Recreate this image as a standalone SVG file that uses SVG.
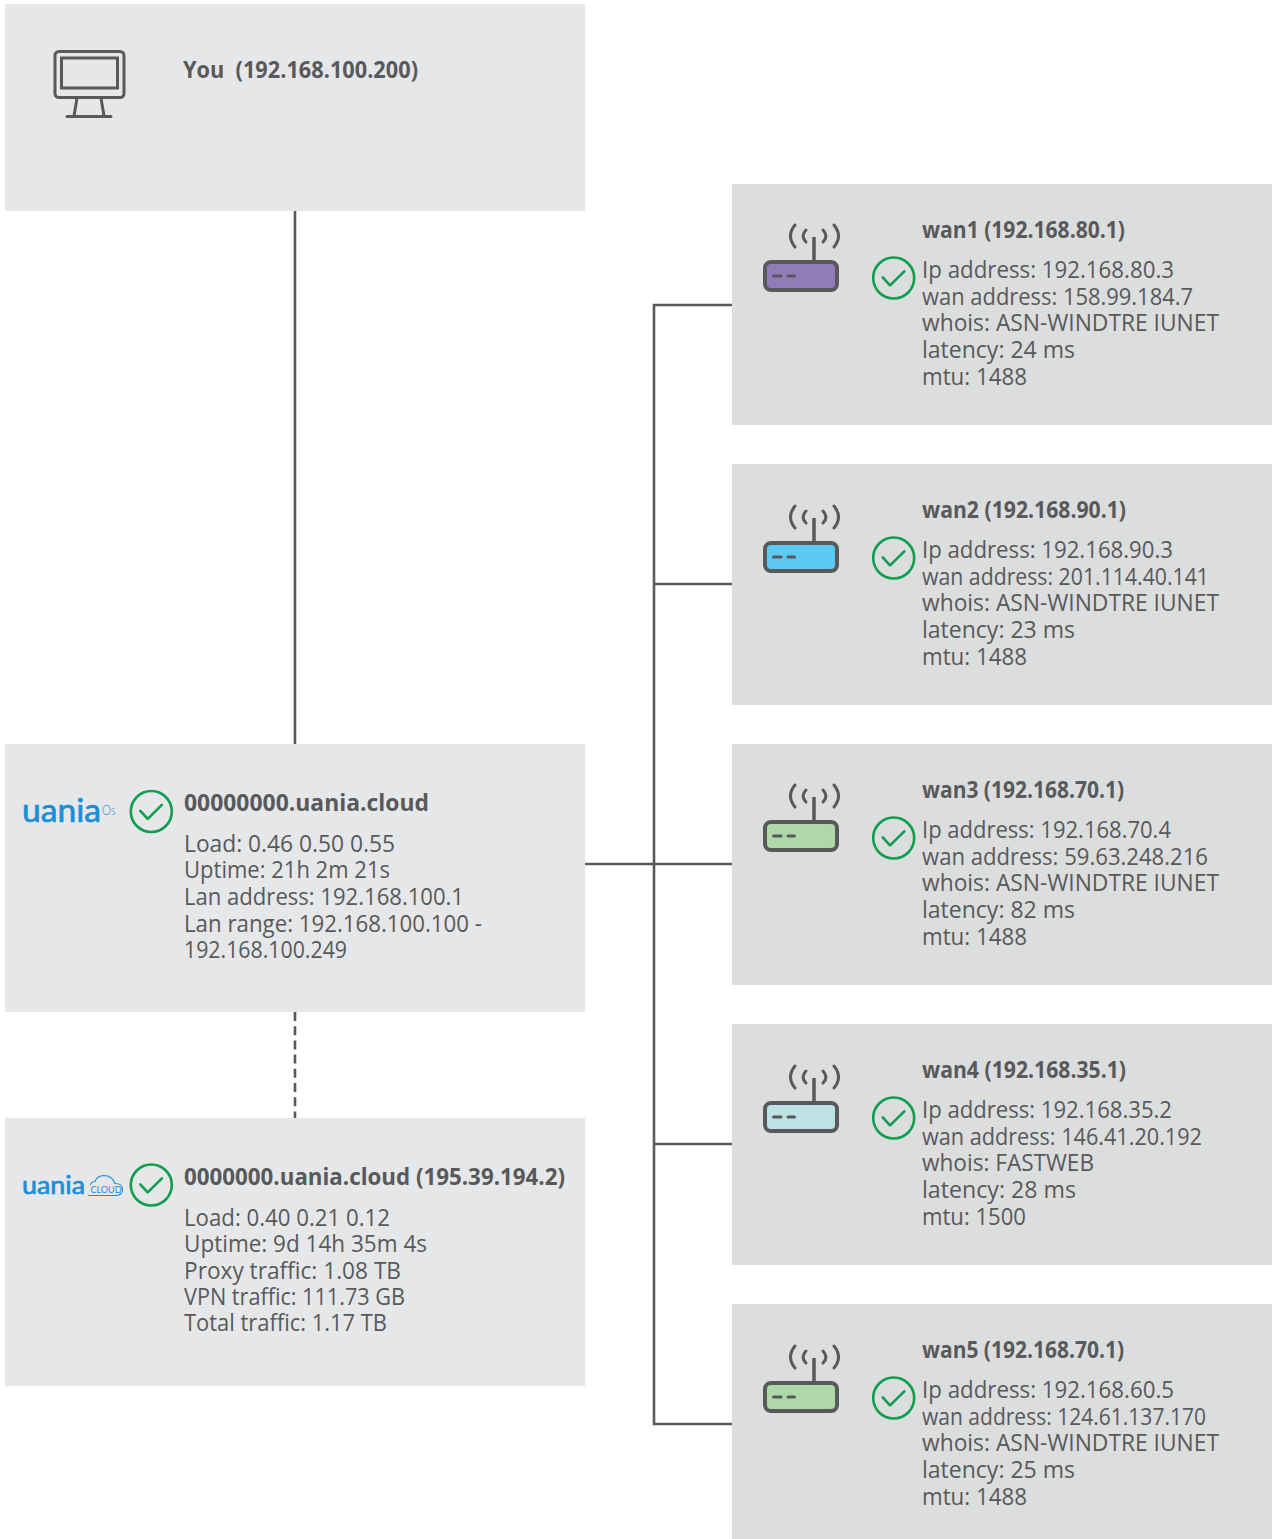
<svg xmlns="http://www.w3.org/2000/svg" width="1272" height="1539" viewBox="0 0 1272 1539">
<style>
text{font-family:"Open Sans","Noto Sans",sans-serif;fill:#58595b;white-space:pre}
.t{font-size:23px;font-weight:700}
.b{font-size:23px}
.lg{fill:#e6e7e8}
.dk{fill:#dcdddd}
.cn{fill:none;stroke:#58595b;stroke-width:2.6}
.ic{fill:none;stroke:#58595b;stroke-width:3;stroke-linecap:round;stroke-linejoin:round}
.ok{fill:none;stroke:#0f9d4f;stroke-width:2.6;stroke-linecap:round;stroke-linejoin:round}
.logo{font-family:"Lato",sans-serif;fill:#1a8fd8;stroke:#1a8fd8;stroke-width:.7}
.logo2{font-family:"Lato",sans-serif;fill:#1a8fd8}
.r1{fill:#917bb8}.r2{fill:#5cc9f5}.r3{fill:#aed8a9}.r4{fill:#bde2e6}
</style>
<defs>
<g id="ok"><circle class="ok" cx="0" cy="0" r="20.5"/><path class="ok" d="M-11-.6L-3.6 7.4L10.6-6.6"/></g>
<g id="wv"><path class="ic" d="M795 225Q786 236 795 247M806 230Q800 236 806 242M823 230Q829 236 823 242M834 225Q843 236 834 247"/><path class="ic" style="stroke-linecap:butt;stroke-width:3.5" d="M814 237V262"/></g>
<g id="rt"><path class="ic" style="stroke-width:3" d="M773.500 276H781M788 276H794.500"/></g>
</defs>
<g id="connectors">
<path class="cn" d="M295 211V744"/>
<path class="cn" stroke-dasharray="9 5.200" d="M295 1012V1118"/>
<path class="cn" d="M585 864H732M732 305H654V1424H732M654 584H732M654 1144H732"/>
</g>
<g id="you">
<rect class="lg" x="5" y="4" width="580" height="207"/>
<rect class="ic" x="55" y="51.500" width="69" height="46" rx="4"/>
<rect class="ic" style="stroke-linejoin:miter" x="61.500" y="58" width="56" height="30"/>
<path class="ic" d="M77 98L74 116M101 98L104 116M67 116.500H111"/>
<text class="t" x="183" y="78" textLength="235" lengthAdjust="spacingAndGlyphs">You  (192.168.100.200)</text>
</g>
<g id="node-os">
<rect class="lg" x="5" y="744" width="580" height="268"/>
<text class="logo" x="22" y="822" font-size="32" textLength="79" lengthAdjust="spacingAndGlyphs">uania</text>
<text class="logo2" style="font-weight:300" x="102" y="815" font-size="13" textLength="13.500" lengthAdjust="spacingAndGlyphs">Os</text>
<use href="#ok" x="151.300" y="811.500"/>
<text class="t" x="184" y="811" textLength="245" lengthAdjust="spacingAndGlyphs">00000000.uania.cloud</text>
<text class="b" x="184" y="852" textLength="211" lengthAdjust="spacingAndGlyphs">Load: 0.46 0.50 0.55</text>
<text class="b" x="184" y="878" textLength="206" lengthAdjust="spacingAndGlyphs">Uptime: 21h 2m 21s</text>
<text class="b" x="184" y="905" textLength="280" lengthAdjust="spacingAndGlyphs">Lan address: 192.168.100.1</text>
<text class="b" x="184" y="931.500" textLength="298" lengthAdjust="spacingAndGlyphs">Lan range: 192.168.100.100 -</text>
<text class="b" x="184" y="958" textLength="163" lengthAdjust="spacingAndGlyphs">192.168.100.249</text>
</g>
<g id="node-cloud">
<rect class="lg" x="5" y="1118" width="580" height="268"/>
<text class="logo" x="22" y="1194" font-size="25" textLength="63" lengthAdjust="spacingAndGlyphs">uania</text>
<path fill="none" stroke="#1a8fd8" stroke-width="1.100" d="M88 1195.500H116Q122.500 1195 122.500 1189.500Q122.500 1183.500 115 1183.500Q112 1175.500 104 1175.500Q97 1176 95 1181.500Q91 1181.500 90.500 1185"/>
<text class="logo2" x="90.500" y="1193" font-size="10" textLength="31" lengthAdjust="spacingAndGlyphs">CLOUD</text>
<use href="#ok" x="151.300" y="1185"/>
<text class="t" x="184" y="1185" textLength="381" lengthAdjust="spacingAndGlyphs">0000000.uania.cloud (195.39.194.2)</text>
<text class="b" x="184" y="1225.500" textLength="206" lengthAdjust="spacingAndGlyphs">Load: 0.40 0.21 0.12</text>
<text class="b" x="184" y="1251.500" textLength="243" lengthAdjust="spacingAndGlyphs">Uptime: 9d 14h 35m 4s</text>
<text class="b" x="184" y="1278.500" textLength="217" lengthAdjust="spacingAndGlyphs">Proxy traffic: 1.08 TB</text>
<text class="b" x="184" y="1305" textLength="221" lengthAdjust="spacingAndGlyphs">VPN traffic: 111.73 GB</text>
<text class="b" x="184" y="1331" textLength="203" lengthAdjust="spacingAndGlyphs">Total traffic: 1.17 TB</text>
</g>
<g id="wan1">
<rect class="dk" x="732" y="184" width="540" height="241"/>
<use href="#wv"/>
<rect class="ic r1" style="stroke-width:4" x="765" y="262" width="72" height="28" rx="6"/><use href="#rt"/>
<use href="#ok" x="893.700" y="278"/>
<text class="t" x="922" y="238" textLength="203" lengthAdjust="spacingAndGlyphs">wan1 (192.168.80.1)</text>
<text class="b" x="922" y="278.300" textLength="252" lengthAdjust="spacingAndGlyphs">Ip address: 192.168.80.3</text>
<text class="b" x="922" y="304.900" textLength="271" lengthAdjust="spacingAndGlyphs">wan address: 158.99.184.7</text>
<text class="b" x="922" y="331.200" textLength="297" lengthAdjust="spacingAndGlyphs">whois: ASN-WINDTRE IUNET</text>
<text class="b" x="922" y="358" textLength="153" lengthAdjust="spacingAndGlyphs">latency: 24 ms</text>
<text class="b" x="922" y="384.500" textLength="105" lengthAdjust="spacingAndGlyphs">mtu: 1488</text>
</g>
<g id="wan2">
<rect class="dk" x="732" y="464" width="540" height="241"/>
<use href="#wv" y="281"/>
<rect class="ic r2" style="stroke-width:4" x="765" y="543" width="72" height="28" rx="6"/><use href="#rt" y="281"/>
<use href="#ok" x="893.700" y="558"/>
<text class="t" x="922" y="518" textLength="204" lengthAdjust="spacingAndGlyphs">wan2 (192.168.90.1)</text>
<text class="b" x="922" y="558.300" textLength="251" lengthAdjust="spacingAndGlyphs">Ip address: 192.168.90.3</text>
<text class="b" x="922" y="584.900" textLength="287" lengthAdjust="spacingAndGlyphs">wan address: 201.114.40.141</text>
<text class="b" x="922" y="611.200" textLength="297" lengthAdjust="spacingAndGlyphs">whois: ASN-WINDTRE IUNET</text>
<text class="b" x="922" y="638" textLength="153" lengthAdjust="spacingAndGlyphs">latency: 23 ms</text>
<text class="b" x="922" y="664.700" textLength="105" lengthAdjust="spacingAndGlyphs">mtu: 1488</text>
</g>
<g id="wan3">
<rect class="dk" x="732" y="744" width="540" height="241"/>
<use href="#wv" y="560"/>
<rect class="ic r3" style="stroke-width:4" x="765" y="822" width="72" height="28" rx="6"/><use href="#rt" y="560"/>
<use href="#ok" x="893.700" y="838"/>
<text class="t" x="922" y="798" textLength="202" lengthAdjust="spacingAndGlyphs">wan3 (192.168.70.1)</text>
<text class="b" x="922" y="838.300" textLength="249" lengthAdjust="spacingAndGlyphs">Ip address: 192.168.70.4</text>
<text class="b" x="922" y="864.900" textLength="286" lengthAdjust="spacingAndGlyphs">wan address: 59.63.248.216</text>
<text class="b" x="922" y="891.200" textLength="297" lengthAdjust="spacingAndGlyphs">whois: ASN-WINDTRE IUNET</text>
<text class="b" x="922" y="918" textLength="153" lengthAdjust="spacingAndGlyphs">latency: 82 ms</text>
<text class="b" x="922" y="944.700" textLength="105" lengthAdjust="spacingAndGlyphs">mtu: 1488</text>
</g>
<g id="wan4">
<rect class="dk" x="732" y="1024" width="540" height="241"/>
<use href="#wv" y="841"/>
<rect class="ic r4" style="stroke-width:4" x="765" y="1103" width="72" height="28" rx="6"/><use href="#rt" y="841"/>
<use href="#ok" x="893.700" y="1118"/>
<text class="t" x="922" y="1078" textLength="204" lengthAdjust="spacingAndGlyphs">wan4 (192.168.35.1)</text>
<text class="b" x="922" y="1118.300" textLength="250" lengthAdjust="spacingAndGlyphs">Ip address: 192.168.35.2</text>
<text class="b" x="922" y="1144.900" textLength="280" lengthAdjust="spacingAndGlyphs">wan address: 146.41.20.192</text>
<text class="b" x="922" y="1171.200" textLength="172" lengthAdjust="spacingAndGlyphs">whois: FASTWEB</text>
<text class="b" x="922" y="1198" textLength="154" lengthAdjust="spacingAndGlyphs">latency: 28 ms</text>
<text class="b" x="922" y="1224.700" textLength="104" lengthAdjust="spacingAndGlyphs">mtu: 1500</text>
</g>
<g id="wan5">
<rect class="dk" x="732" y="1304" width="540" height="235"/>
<use href="#wv" y="1121"/>
<rect class="ic r3" style="stroke-width:4" x="765" y="1383" width="72" height="28" rx="6"/><use href="#rt" y="1121"/>
<use href="#ok" x="893.700" y="1398"/>
<text class="t" x="922" y="1358" textLength="202" lengthAdjust="spacingAndGlyphs">wan5 (192.168.70.1)</text>
<text class="b" x="922" y="1398.300" textLength="252" lengthAdjust="spacingAndGlyphs">Ip address: 192.168.60.5</text>
<text class="b" x="922" y="1424.900" textLength="284" lengthAdjust="spacingAndGlyphs">wan address: 124.61.137.170</text>
<text class="b" x="922" y="1451.200" textLength="297" lengthAdjust="spacingAndGlyphs">whois: ASN-WINDTRE IUNET</text>
<text class="b" x="922" y="1478" textLength="153" lengthAdjust="spacingAndGlyphs">latency: 25 ms</text>
<text class="b" x="922" y="1504.700" textLength="105" lengthAdjust="spacingAndGlyphs">mtu: 1488</text>
</g>
</svg>
